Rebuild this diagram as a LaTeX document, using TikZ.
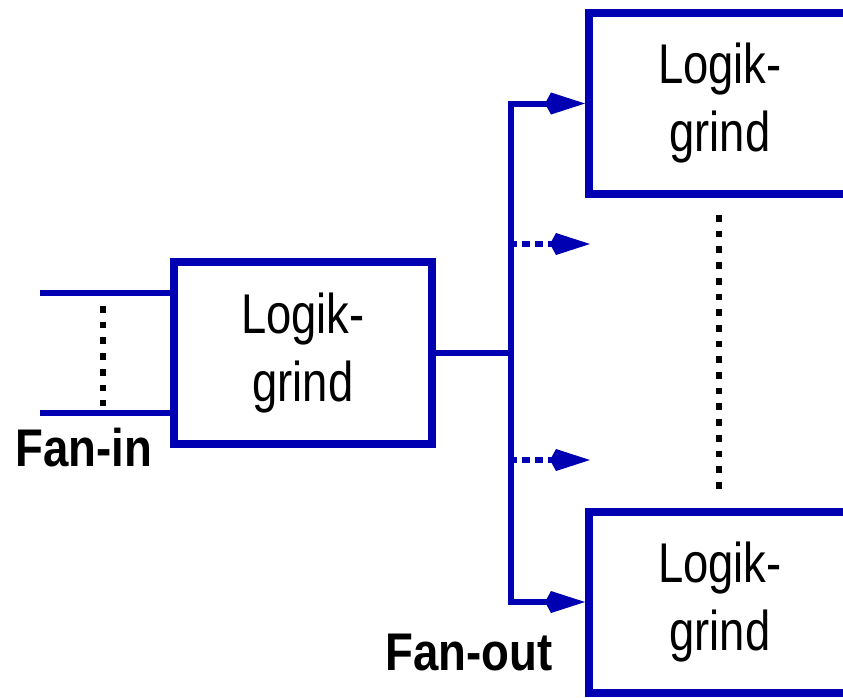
\documentclass[tikz,border=0pt]{standalone}
\usepackage{fontspec}
\setmainfont{Liberation Sans}[FakeStretch=0.81]
\newfontfamily\labfont{Liberation Sans}[FakeStretch=0.86]
\usetikzlibrary{arrows.meta}
\definecolor{lineblue}{RGB}{0,0,178}
\begin{document}
\begin{tikzpicture}[x=1pt,y=-1pt,
  gatebox/.style={draw=lineblue,line width=8pt,minimum width=262pt,minimum height=181pt,inner sep=0pt,align=center,font=\fontsize{56}{68}\selectfont},
  wire/.style={draw=lineblue,line width=6pt,line join=miter,line cap=butt},
  kitetip/.style={-{Kite[length=40pt,width=22pt,inset=6pt,line width=0pt]}},
  dashwire/.style={wire,dash pattern=on 8.5pt off 4.5pt,dash phase=2.5pt},
  blackdots/.style={draw=black,line width=6pt,dash pattern=on 6.7pt off 9pt},
  lab/.style={inner sep=0pt,anchor=base west,font=\labfont\bfseries\fontsize{53}{60}\selectfont}
]
\useasboundingbox (0,0) rectangle (843,697);
\fill[white] (0,0) rectangle (843,697);

% main gate
\node[gatebox,minimum width=258pt,minimum height=182pt] (main) at (303,353) {Logik-\\grind};
% fan-out gates (right border lies outside the picture)
\node[gatebox] (top) at (720,103.5) {Logik-\\grind};
\node[gatebox] (bot) at (720,602) {Logik-\\grind};

% fan-in wires
\coordinate (in1) at (40,293);
\coordinate (in2) at (40,413);
\draw[wire] (in1) -- (in1 -| main.west);
\draw[wire] (in2) -- (in2 -| main.west);
\coordinate (dl1) at (103,306);
\coordinate (dl2) at (103,406);
\draw[blackdots] (dl1) -- (dl2);

% fan-out wires
\coordinate (j) at (511,353);
\draw[wire] (main.east) -- (j);
\draw[wire,kitetip] (j) |- (top.west);
\draw[wire,kitetip] (j) |- (bot.west);
\coordinate (d1s) at (511,244);
\coordinate (d1e) at (590,244);
\coordinate (d2s) at (511,460);
\coordinate (d2e) at (590,460);
\draw[dashwire,kitetip] (d1s) -- (d1e);
\draw[dashwire,kitetip] (d2s) -- (d2e);
\coordinate (dr1) at (719,215);
\coordinate (dr2) at (719,489);
\draw[blackdots] (dr1) -- (dr2);

% labels
\node[lab] (fanin) at (15,466) {Fan-in};
\node[lab] (fanout) at (385,670) {Fan-out};
\end{tikzpicture}
\end{document}
